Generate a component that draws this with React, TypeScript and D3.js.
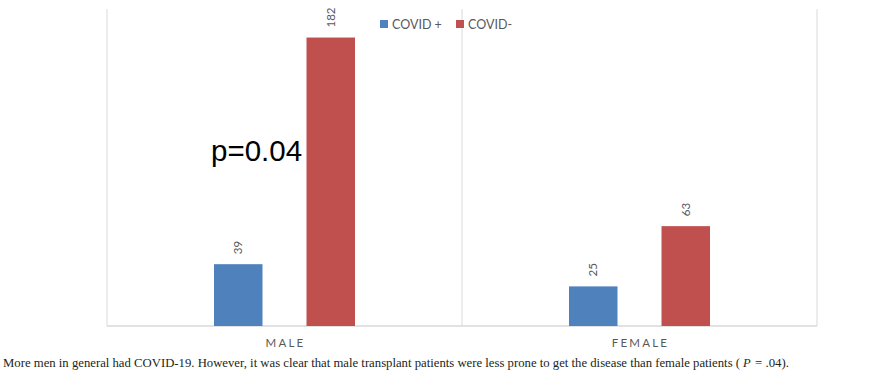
import React from "react";
import * as d3 from "d3";

const categories = ["MALE", "FEMALE"];
const seriesNames = ["COVID +", "COVID-"];
const covidPos = [39, 25];
const covidNeg = [182, 63];
const colors = ["#4f81bd", "#c0504d"];
const annotation = "p=0.04";
const captionMain =
  "More men in general had COVID-19. However, it was clear that male transplant patients were less prone to get the disease than female patients (";
const captionItalic = "P";
const captionEnd = "= .04).";

const W = 885;
const H = 380;
const plot = { left: 107, right: 817, top: 9, bottom: 326 };

export default function App() {
  const x = d3
    .scaleBand<string>()
    .domain(categories)
    .range([plot.left, plot.right])
    .paddingInner(0)
    .paddingOuter(0);
  const y = d3.scaleLinear().domain([0, 200]).range([plot.bottom, plot.top]);
  const groupW = 141;
  const barW = 48.5;
  const gap = groupW - 2 * barW;
  const values = [covidPos, covidNeg];
  const font = "Lato, 'Open Sans', sans-serif";
  const grey = "#595959";
  const serif = "'Liberation Serif', 'Times New Roman', serif";

  const bars: React.ReactNode[] = [];
  categories.forEach((c, ci) => {
    const bx = (x(c) as number) + (x.bandwidth() - groupW) / 2;
    values.forEach((vals, si) => {
      const v = vals[ci];
      const xl = bx + si * (barW + gap);
      const yt = y(v);
      bars.push(
        <rect
          key={`b-${ci}-${si}`}
          x={xl}
          y={yt}
          width={barW}
          height={plot.bottom - yt}
          fill={colors[si]}
        />
      );
      const cx = xl + barW / 2;
      const ly = yt - 10;
      bars.push(
        <text
          key={`l-${ci}-${si}`}
          transform={`translate(${cx + 4},${ly}) rotate(-90)`}
          fontFamily={font}
          fontSize={11.5}
          fill={grey}
          textAnchor="start"
        >
          {v}
        </text>
      );
    });
  });

  const gridXs = [plot.left, ...categories.map((c) => (x(c) as number) + x.bandwidth())];

  return (
    <svg
      width={W}
      height={H}
      style={{ position: "absolute", left: 0, top: 0, background: "#fff" }}
    >
      <rect x={0} y={0} width={W} height={H} fill="#fff" />
      {gridXs.map((gx, i) => (
        <line
          key={`g${i}`}
          x1={gx}
          x2={gx}
          y1={plot.top}
          y2={plot.bottom}
          stroke="#d9d9d9"
          strokeWidth={1}
        />
      ))}
      <line
        x1={plot.left}
        x2={plot.right}
        y1={plot.bottom}
        y2={plot.bottom}
        stroke="#d9d9d9"
        strokeWidth={1.5}
      />
      {bars}
      {categories.map((c) => (
        <text
          key={c}
          x={(x(c) as number) + x.bandwidth() / 2 + 1}
          y={347}
          textAnchor="middle"
          fontFamily={font}
          fontSize={11.5}
          letterSpacing={2.2}
          fill={grey}
        >
          {c}
        </text>
      ))}
      {seriesNames.map((s, i) => {
        const lx = [380, 456][i];
        return (
          <g key={s}>
            <rect x={lx} y={20} width={8} height={8} fill={colors[i]} />
            <text
              x={lx + 12}
              y={28.5}
              fontFamily={font}
              fontSize={12.5}
              fill={grey}
            >
              {s}
            </text>
          </g>
        );
      })}
      <text
        x={211}
        y={161}
        fontFamily="'Liberation Sans', Arial, sans-serif"
        fontSize={29.5}
        fill="#000"
      >
        {annotation}
      </text>
      <text
        x={3}
        y={367}
        fontFamily={serif}
        fontSize={12.3}
        fill="#231f20"
        textLength={737}
        lengthAdjust="spacingAndGlyphs"
      >
        {captionMain}
      </text>
      <text
        x={743}
        y={367}
        fontFamily={serif}
        fontSize={12.5}
        fontStyle="italic"
        fill="#231f20"
      >
        {captionItalic}
      </text>
      <text
        x={755}
        y={367}
        fontFamily={serif}
        fontSize={12.5}
        fill="#231f20"
        textLength={34}
        lengthAdjust="spacingAndGlyphs"
      >
        {captionEnd}
      </text>
    </svg>
  );
}
